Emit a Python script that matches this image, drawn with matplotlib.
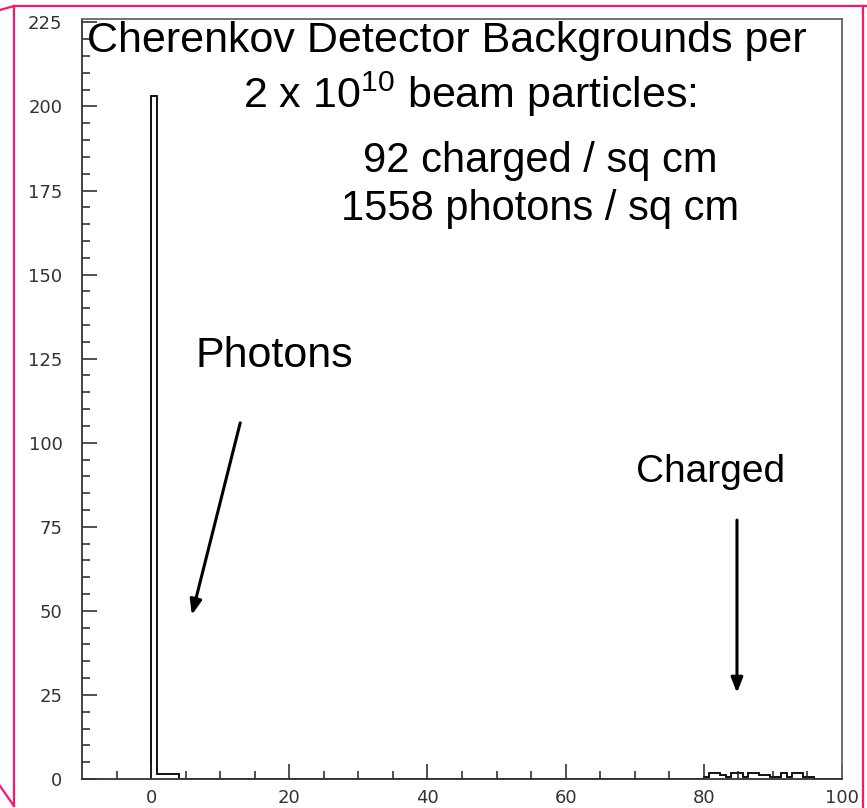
import numpy as np
import matplotlib
matplotlib.use("Agg")
import matplotlib.pyplot as plt
from matplotlib.lines import Line2D

plt.rcParams['mathtext.fontset'] = 'custom'
plt.rcParams['mathtext.rm'] = 'Liberation Sans'

# histogram layout: 125 bins over 0..100
bin_width = 0.8
n_bins = 125

# photon peak (starting at x = 0)
photon_start = 0.0
photon_counts = [203, 1.5, 1.5, 1.5, 1.5]

# charged tail (starting at x = 80)
charged_start = 80.0
charged_counts = [0.6, 1.8, 1.8, 1.2, 0.6, 1.8, 1.8, 0.6, 1.8, 1.8,
                  1.2, 1.2, 0.6, 0.6, 1.8, 0.6, 1.8, 1.8, 0.6, 0.6]

x_ticks = [0, 20, 40, 60, 80, 100]
y_ticks = [0, 25, 50, 75, 100, 125, 150, 175, 200, 225]

counts = np.zeros(n_bins)
i0 = int(round(photon_start / bin_width))
counts[i0:i0 + len(photon_counts)] = photon_counts
i1 = int(round(charged_start / bin_width))
counts[i1:i1 + len(charged_counts)] = charged_counts
edges = np.arange(n_bins + 1) * bin_width

fig = plt.figure(figsize=(8.67, 8.08), dpi=100)
ax = fig.add_axes([82 / 867, 29 / 808, 760 / 867, 760 / 808])

ax.stairs(counts, edges, color='black', linewidth=1.3)

ax.set_xlim(-10, 100)
ax.set_ylim(0, 226)
ax.set_xticks(x_ticks)
ax.set_xticks(np.arange(-5, 100, 5), minor=True)
ax.set_yticks(y_ticks)
ax.set_yticks(np.arange(0, 226, 5), minor=True)

ax.tick_params(which='both', direction='in', width=1.1, color='#222222',
               top=False, right=False)
ax.tick_params(which='major', length=11, labelsize=13, labelcolor='#333333')
ax.tick_params(which='minor', length=6)
ax.tick_params(axis='x', which='major', pad=7)
ax.tick_params(axis='y', which='major', pad=14)
for s in ax.spines.values():
    s.set_linewidth(1.3)
    s.set_color('#333333')
ax.spines['right'].set_color('#666666')
ax.spines['top'].set_color('#666666')

txt = dict(family='Liberation Sans', color='black')
ax.text(42.8, 216.2, 'Cherenkov Detector Backgrounds per', ha='center',
        va='baseline', fontsize=31, **txt)
ax.text(46.2, 199.5, r'2 x 10$\mathregular{^{10}}$ beam particles:',
        ha='center', va='baseline', fontsize=31, **txt)
ax.text(56.3, 180.5, '92 charged / sq cm', ha='center', va='baseline',
        fontsize=30, **txt)
ax.text(56.3, 166.2, '1558 photons / sq cm', ha='center', va='baseline',
        fontsize=30, **txt)
ax.text(17.9, 122.5, 'Photons', ha='center', va='baseline', fontsize=31, **txt)
ax.text(81.0, 88.3, 'Charged', ha='center', va='baseline', fontsize=28, **txt)

arrow = dict(arrowstyle='-|>,head_length=0.9,head_width=0.35',
             color='black', lw=2.2, shrinkA=0, shrinkB=0)
ax.annotate('', xy=(5.9, 48.8), xytext=(12.9, 105.9), arrowprops=arrow)
ax.annotate('', xy=(84.8, 25.6), xytext=(84.8, 77.0), arrowprops=arrow)

# slide frame around the plot
W, H = 867, 808
pink = '#ff1470'
frame = [((0, 10), (14, 6)), ((14, 6), (867, 6)), ((14, 6), (14, 806)),
         ((0, 786), (14, 806)), ((863, 6), (863, 808))]
for (x0, y0), (x1, y1) in frame:
    fig.add_artist(Line2D([x0 / W, x1 / W], [1 - y0 / H, 1 - y1 / H],
                          color=pink, linewidth=1.6,
                          transform=fig.transFigure))

fig.savefig('out.png', dpi=100)
